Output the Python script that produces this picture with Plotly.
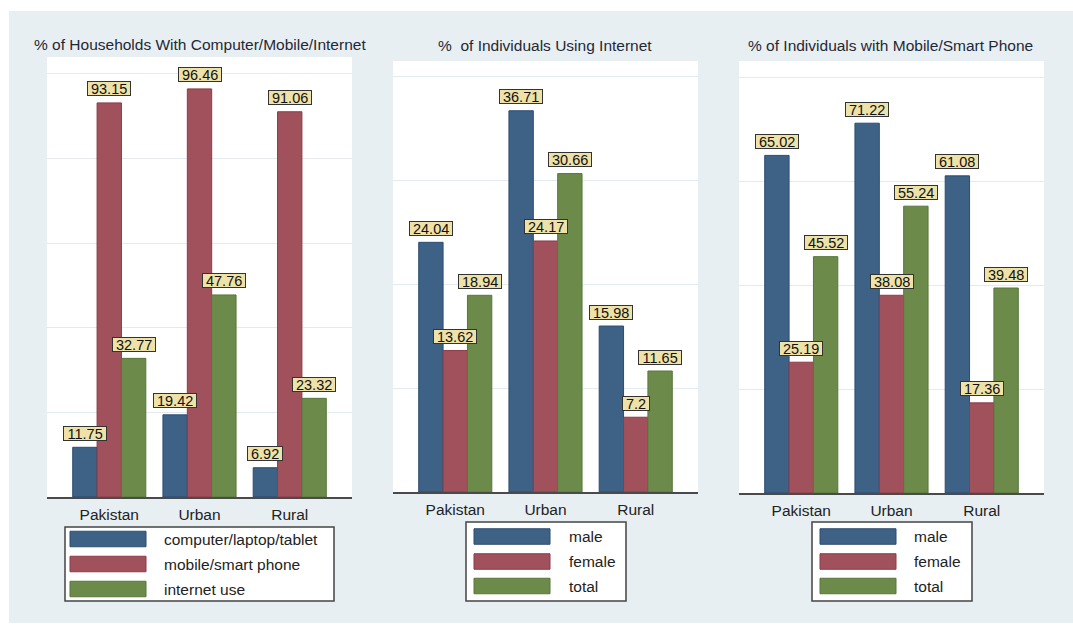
import plotly.graph_objects as go

# ---------------- data ----------------
categories = ["Pakistan", "Urban", "Rural"]

hh_series = ["computer/laptop/tablet", "mobile/smart phone", "internet use"]
hh_computer = [11.75, 19.42, 6.92]
hh_mobile = [93.15, 96.46, 91.06]
hh_internet = [32.77, 47.76, 23.32]

sex_series = ["male", "female", "total"]
net_male = [24.04, 36.71, 15.98]
net_female = [13.62, 24.17, 7.2]
net_total = [18.94, 30.66, 11.65]

phone_male = [65.02, 71.22, 61.08]
phone_female = [25.19, 38.08, 17.36]
phone_total = [45.52, 55.24, 39.48]

titles = [
    "% of Households With Computer/Mobile/Internet",
    "%\u00a0 of Individuals Using Internet",
    "% of Individuals with Mobile/Smart Phone",
]

# ---------------- style ----------------
W, H = 1073, 630
FONT = "Arial, Liberation Sans, sans-serif"
BG = "#e8eff3"
GRID = "#e3ebef"
FILLS = ["#3e6186", "#a1515b", "#6c8b4b"]
LINES = ["#2d4c70", "#8b3c46", "#57773a"]
LABEL_FILL = "#efe2a8"


def fx(p):
    return p / W


def fy(p):
    return 1 - p / H


panels = [
    dict(series=hh_series, values=[hh_computer, hh_mobile, hh_internet],
         x0=47, x1=352, top=57, bottom=497, ymax=104, dtick=20,
         tx=199.5, ty=44.5,
         box=(65, 527, 334, 601), sw=(70, 146), rows=(539, 564, 589), tx_leg=162),
    dict(series=sex_series, values=[net_male, net_female, net_total],
         x0=393, x1=698, top=61, bottom=492, ymax=41.5, dtick=10,
         tx=545, ty=45.5,
         box=(466, 522, 626, 601), sw=(474, 550), rows=(536.5, 561.5, 586), tx_leg=567),
    dict(series=sex_series, values=[phone_male, phone_female, phone_total],
         x0=739, x1=1044, top=61, bottom=493, ymax=83.2, dtick=20,
         tx=890, ty=45.5,
         box=(812, 522, 972, 601), sw=(820, 896), rows=(536.5, 561.5, 586), tx_leg=912),
]

fig = go.Figure()
shapes = [dict(type="rect", xref="paper", yref="paper", x0=fx(9), x1=1.0,
               y0=fy(623), y1=fy(11), fillcolor=BG, line=dict(width=0), layer="below")]
annotations = []

BAR_W = (1 - 0.19) / 3


def label_width(s, size=14.5):
    w = 0.0
    for ch in s:
        w += 0.278 if ch == "." else 0.556
    return w * size + 6


xpos = list(range(len(categories)))

for k, p in enumerate(panels):
    ax = "" if k == 0 else str(k + 1)
    xa, ya = "x" + ax, "y" + ax
    for j, (name, vals) in enumerate(zip(p["series"], p["values"])):
        fig.add_trace(go.Bar(
            x=xpos, y=vals, name=name, xaxis=xa, yaxis=ya,
            marker=dict(color=FILLS[j], line=dict(color=LINES[j], width=1)),
            showlegend=False, hoverinfo="skip"))
        off = (j - 1) * BAR_W
        for i, v in enumerate(vals):
            txt = f"{v:g}"
            annotations.append(dict(
                x=i + off, y=v, xref=xa, yref=ya, text=txt, showarrow=False,
                xanchor="center", yanchor="middle", yshift=14,
                font=dict(family=FONT, size=14.5, color="#111111"),
                bgcolor=LABEL_FILL, bordercolor="#333333", borderwidth=1,
                borderpad=0, width=label_width(txt), height=13))
    layout_x = dict(domain=[fx(p["x0"]), fx(p["x1"])], range=[-0.69, 2.69],
                    tickmode="array", tickvals=xpos, ticktext=categories,
                    showgrid=False, zeroline=False, showline=True,
                    linecolor="#4a4a4a", linewidth=1.5, ticks="",
                    ticklabelstandoff=3,
                    tickfont=dict(family=FONT, size=15.5, color="#222222"),
                    anchor=ya, fixedrange=True)
    layout_y = dict(domain=[fy(p["bottom"]), fy(p["top"])], range=[0, p["ymax"]],
                    dtick=p["dtick"], tick0=0, showgrid=True, gridcolor=GRID, gridwidth=1,
                    zeroline=False, showticklabels=False, ticks="", showline=False,
                    anchor=xa, fixedrange=True)
    fig.update_layout(**{"xaxis" + ax: layout_x, "yaxis" + ax: layout_y})

    # white plot region
    shapes.append(dict(type="rect", xref="paper", yref="paper",
                       x0=fx(p["x0"]), x1=fx(p["x1"]), y0=fy(p["bottom"]), y1=fy(p["top"]),
                       fillcolor="white", line=dict(width=0), layer="below"))
    # title
    annotations.append(dict(x=fx(p["tx"]), y=fy(p["ty"]), xref="paper", yref="paper",
                            text=titles[k], showarrow=False, xanchor="center", yanchor="middle",
                            font=dict(family=FONT, size=15.5, color="#1f2835")))
    # legend
    bx0, by0, bx1, by1 = p["box"]
    shapes.append(dict(type="rect", xref="paper", yref="paper",
                       x0=fx(bx0), x1=fx(bx1), y0=fy(by1), y1=fy(by0),
                       fillcolor="white", line=dict(color="#444444", width=1.5), layer="above"))
    for j, name in enumerate(p["series"]):
        cy = p["rows"][j]
        shapes.append(dict(type="rect", xref="paper", yref="paper",
                           x0=fx(p["sw"][0]), x1=fx(p["sw"][1]),
                           y0=fy(cy + 7.75), y1=fy(cy - 7.75),
                           fillcolor=FILLS[j], line=dict(color=LINES[j], width=1), layer="above"))
        annotations.append(dict(x=fx(p["tx_leg"]), y=fy(cy), xref="paper", yref="paper",
                                text=name, showarrow=False, xanchor="left", yanchor="middle",
                                font=dict(family=FONT, size=15.5, color="#222222")))

fig.update_layout(
    width=W, height=H, margin=dict(l=0, r=0, t=0, b=0),
    paper_bgcolor="white", plot_bgcolor="white",
    barmode="group", bargap=0.19, bargroupgap=0,
    shapes=shapes, annotations=annotations, showlegend=False,
    font=dict(family=FONT),
)

fig.write_html("out.html", config={"displayModeBar": False},
               post_script="document.body.style.margin='0';document.body.style.overflow='hidden';")
